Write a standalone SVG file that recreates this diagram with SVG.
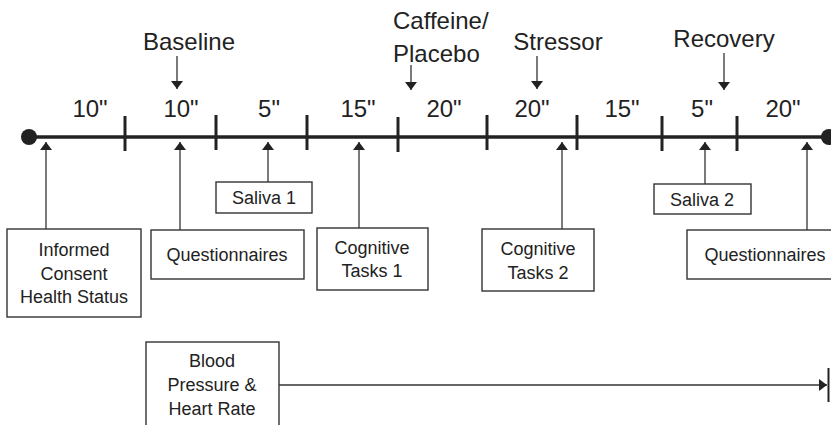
<svg xmlns="http://www.w3.org/2000/svg" width="831" height="425" viewBox="0 0 831 425">
<defs>
<style>
text{font-family:"Liberation Sans",Arial,sans-serif;fill:#222;text-anchor:middle}
.hdr{font-size:24px}
.dur{font-size:24px}
.box rect{fill:#fff;stroke:#333;stroke-width:1.4}
.box text{font-size:18px}
.tick{stroke:#222;stroke-width:3}
.arr{stroke:#333;stroke-width:1.3;fill:none;marker-end:url(#ah)}
</style>
<marker id="ah" viewBox="0 0 8 12" refX="8" refY="6" markerWidth="8" markerHeight="12" markerUnits="userSpaceOnUse" orient="auto">
<path d="M0,0 L8,6 L0,12 Z" fill="#222"/>
</marker>
</defs>
<g id="timeline">
<line x1="29" y1="137" x2="828" y2="137" stroke="#222" stroke-width="3.5"/>
<circle cx="29" cy="137" r="8" fill="#222"/>
<circle cx="829" cy="137" r="8" fill="#222"/>
<line class="tick" x1="125" y1="116" x2="125" y2="151"/>
<line class="tick" x1="216" y1="115" x2="216" y2="150"/>
<line class="tick" x1="307" y1="115" x2="307" y2="150"/>
<line class="tick" x1="398" y1="117" x2="398" y2="152"/>
<line class="tick" x1="487" y1="115" x2="487" y2="150"/>
<line class="tick" x1="577" y1="115" x2="577" y2="150"/>
<line class="tick" x1="662" y1="116" x2="662" y2="151"/>
<line class="tick" x1="737" y1="116" x2="737" y2="151"/>
<text class="dur" x="90" y="117">10"</text>
<text class="dur" x="181" y="117">10"</text>
<text class="dur" x="269" y="117">5"</text>
<text class="dur" x="358" y="117">15"</text>
<text class="dur" x="444" y="117">20"</text>
<text class="dur" x="532" y="117">20"</text>
<text class="dur" x="622" y="117">15"</text>
<text class="dur" x="702" y="117">5"</text>
<text class="dur" x="783" y="117">20"</text>
</g>
<g id="baseline"><text class="hdr" x="189" y="50">Baseline</text></g>
<g id="caffeine"><text class="hdr" x="393" y="29" style="text-anchor:start">Caffeine/</text><text class="hdr" x="393" y="62" style="text-anchor:start">Placebo</text></g>
<g id="stressor"><text class="hdr" x="558" y="50">Stressor</text></g>
<g id="recovery"><text class="hdr" x="724" y="47">Recovery</text></g>
<g id="informed" class="box"><rect x="7" y="229" width="134" height="88"/><text x="74" y="256">Informed</text><text x="74" y="280">Consent</text><text x="74" y="303">Health Status</text></g>
<g id="quest1" class="box"><rect x="151" y="230" width="153" height="49"/><text x="227" y="261">Questionnaires</text></g>
<g id="saliva1" class="box"><rect x="216" y="182" width="96" height="31"/><text x="264" y="204">Saliva 1</text></g>
<g id="cog1" class="box"><rect x="317" y="228" width="111" height="62"/><text x="372" y="254">Cognitive</text><text x="372" y="277">Tasks 1</text></g>
<g id="cog2" class="box"><rect x="482" y="229" width="112" height="62"/><text x="538" y="255">Cognitive</text><text x="538" y="279">Tasks 2</text></g>
<g id="saliva2" class="box"><rect x="654" y="184" width="97" height="30"/><text x="702" y="206">Saliva 2</text></g>
<g id="quest2" class="box"><rect x="687" y="230" width="160" height="49"/><text x="765" y="261">Questionnaires</text></g>
<g id="bp" class="box"><rect x="146" y="342" width="133" height="100"/><text x="212" y="367">Blood</text><text x="212" y="391">Pressure &amp;</text><text x="212" y="415">Heart Rate</text></g>
<g id="connectors">
<line class="arr" x1="177" y1="56" x2="177" y2="89"/>
<line class="arr" x1="411" y1="65" x2="411" y2="90"/>
<line class="arr" x1="537" y1="56" x2="537" y2="89"/>
<line class="arr" x1="724" y1="53" x2="724" y2="90"/>
<line class="arr" x1="46" y1="229" x2="46" y2="142"/>
<line class="arr" x1="180" y1="230" x2="180" y2="142"/>
<line class="arr" x1="268" y1="182" x2="268" y2="142"/>
<line class="arr" x1="359" y1="228" x2="359" y2="142"/>
<line class="arr" x1="562" y1="229" x2="562" y2="142"/>
<line class="arr" x1="705" y1="184" x2="705" y2="142"/>
<line class="arr" x1="807" y1="230" x2="807" y2="142"/>
<line class="arr" x1="279" y1="385" x2="827" y2="385"/>
<line x1="828.5" y1="368" x2="828.5" y2="402" stroke="#222" stroke-width="2"/>
</g>
</svg>
